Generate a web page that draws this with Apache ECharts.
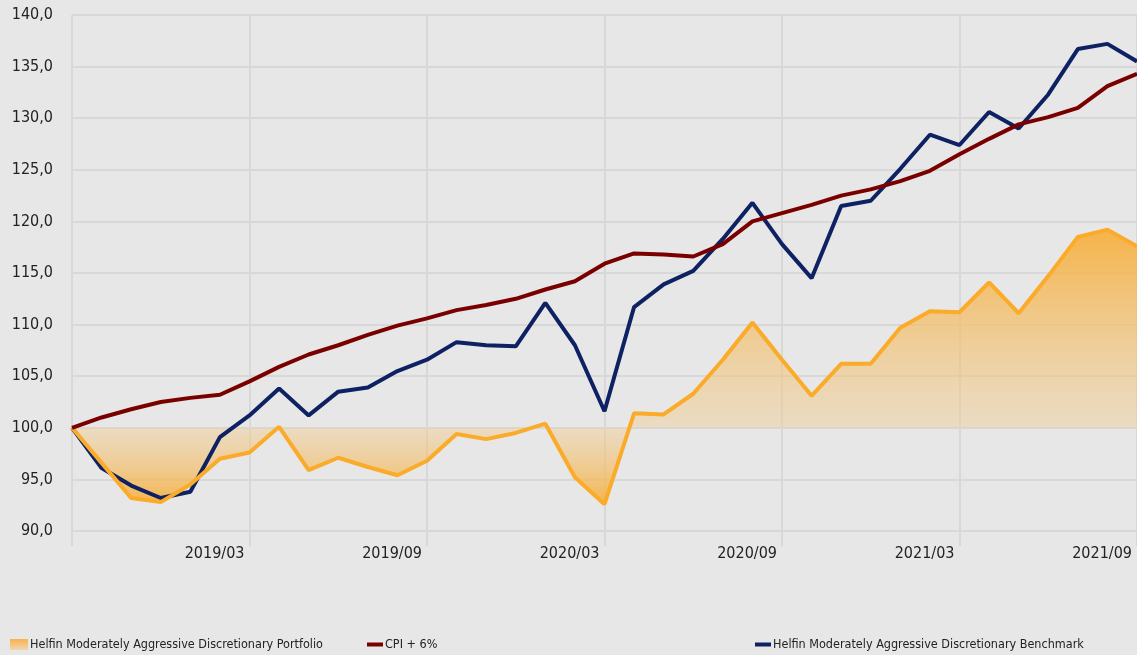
<!DOCTYPE html>
<html>
<head>
<meta charset="utf-8">
<script src="https://cdn.jsdelivr.net/npm/echarts@6/dist/echarts.min.js"></script>
<style>
  html, body { margin: 0; padding: 0; background: #e7e7e7; }
  #main { width: 1137px; height: 655px; }
</style>
</head>
<body>
<div id="main"></div>
<script>
var months = [
  '2018/09', '2018/10', '2018/11', '2018/12', '2019/01', '2019/02', '2019/03',
  '2019/04', '2019/05', '2019/06', '2019/07', '2019/08', '2019/09', '2019/10',
  '2019/11', '2019/12', '2020/01', '2020/02', '2020/03', '2020/04', '2020/05',
  '2020/06', '2020/07', '2020/08', '2020/09', '2020/10', '2020/11', '2020/12',
  '2021/01', '2021/02', '2021/03', '2021/04', '2021/05', '2021/06', '2021/07',
  '2021/08', '2021/09'
];

var portfolio = [
  100.0, 96.6, 93.2, 92.8, 94.5, 97.0, 97.6, 100.1, 95.9, 97.1, 96.2, 95.4,
  96.8, 99.4, 98.9, 99.5, 100.4, 95.2, 92.6, 101.4, 101.3, 103.3, 106.6, 110.2,
  106.6, 103.1, 106.2, 106.2, 109.7, 111.3, 111.2, 114.1, 111.1, 114.7, 118.5,
  119.2, 117.6
];

var cpi = [
  100.0, 101.0, 101.8, 102.5, 102.9, 103.2, 104.5, 105.9, 107.1, 108.0, 109.0,
  109.9, 110.6, 111.4, 111.9, 112.5, 113.4, 114.2, 115.9, 116.9, 116.8, 116.6,
  117.8, 120.0, 120.8, 121.6, 122.5, 123.1, 123.9, 124.9, 126.5, 128.0, 129.4,
  130.1, 131.0, 133.1, 134.3
];

var benchmark = [
  100.0, 96.1, 94.4, 93.2, 93.8, 99.1, 101.2, 103.8, 101.2, 103.5, 103.9, 105.5,
  106.6, 108.3, 108.0, 107.9, 112.1, 108.0, 101.6, 111.7, 113.9, 115.2, 118.3,
  121.8, 117.8, 114.5, 121.5, 122.0, 125.1, 128.4, 127.4, 130.6, 129.0, 132.3,
  136.7, 137.2, 135.5
];

var names = [
  'Helfin Moderately Aggressive Discretionary Portfolio',
  'CPI + 6%',
  'Helfin Moderately Aggressive Discretionary Benchmark'
];

var FONT = '"DejaVu Sans Condensed", "Liberation Sans", sans-serif';

var myChart = echarts.init(document.getElementById('main'));

// area shades from the 100 line outwards, stronger away from it
var areaFill = new echarts.graphic.LinearGradient(0, 0, 0, 1, [
  { offset: 0, color: 'rgba(248, 172, 50, 0.88)' },
  { offset: 0.72, color: 'rgba(240, 205, 150, 0.45)' },
  { offset: 1, color: 'rgba(248, 172, 50, 0.85)' }
]);

var legendBase = {
  orient: 'horizontal',
  top: 638,
  padding: 0,
  itemGap: 0,
  textStyle: { fontFamily: FONT, fontSize: 12.5, color: '#222', padding: [0, 0, 0, -3] }
};

myChart.setOption({
  backgroundColor: '#e7e7e7',
  animation: false,
  grid: { left: 72, top: 15, width: 1067, height: 516 },
  legend: [
    Object.assign({}, legendBase, {
      left: 10,
      itemWidth: 18,
      itemHeight: 11,
      data: [{
        name: names[0],
        icon: 'rect',
        itemStyle: {
          color: new echarts.graphic.LinearGradient(0, 0, 0, 1, [
            { offset: 0, color: '#f7b24a' },
            { offset: 1, color: '#efd6b2' }
          ])
        }
      }]
    }),
    Object.assign({}, legendBase, {
      left: 367,
      itemWidth: 16,
      itemHeight: 4,
      data: [{ name: names[1], icon: 'rect' }]
    }),
    Object.assign({}, legendBase, {
      left: 755,
      itemWidth: 16,
      itemHeight: 4,
      data: [{ name: names[2], icon: 'rect' }]
    })
  ],
  xAxis: {
    type: 'category',
    boundaryGap: false,
    data: months,
    axisLine: { show: false },
    axisTick: {
      show: true,
      interval: 5,
      length: 15,
      lineStyle: { color: '#d8d8d8', width: 2 }
    },
    splitLine: {
      show: true,
      interval: 5,
      lineStyle: { color: '#d8d8d8', width: 2 }
    },
    axisLabel: {
      interval: function (idx) { return idx > 0 && idx % 6 === 0; },
      align: 'right',
      padding: [0, 5, 0, 0],
      margin: 15,
      fontFamily: FONT,
      fontSize: 16,
      color: '#222'
    }
  },
  yAxis: {
    type: 'value',
    min: 90,
    max: 140,
    interval: 5,
    axisLine: { show: false },
    axisTick: { show: false },
    splitLine: { lineStyle: { color: '#d8d8d8', width: 2 } },
    axisLabel: {
      margin: 19,
      fontFamily: FONT,
      fontSize: 16,
      color: '#222',
      formatter: function (v) { return v.toFixed(1).replace('.', ','); }
    }
  },
  series: [
    {
      name: names[2],
      type: 'line',
      data: benchmark,
      showSymbol: false,
      color: '#0e2163',
      lineStyle: { width: 4, color: '#0e2163' }
    },
    {
      name: names[0],
      type: 'line',
      data: portfolio,
      showSymbol: false,
      color: '#fbab2a',
      lineStyle: { width: 4, color: '#fbab2a' },
      areaStyle: { origin: 100, color: areaFill, opacity: 1 }
    },
    {
      name: names[1],
      type: 'line',
      data: cpi,
      showSymbol: false,
      color: '#7a0000',
      lineStyle: { width: 4, color: '#7a0000' }
    }
  ]
});
</script>
</body>
</html>
